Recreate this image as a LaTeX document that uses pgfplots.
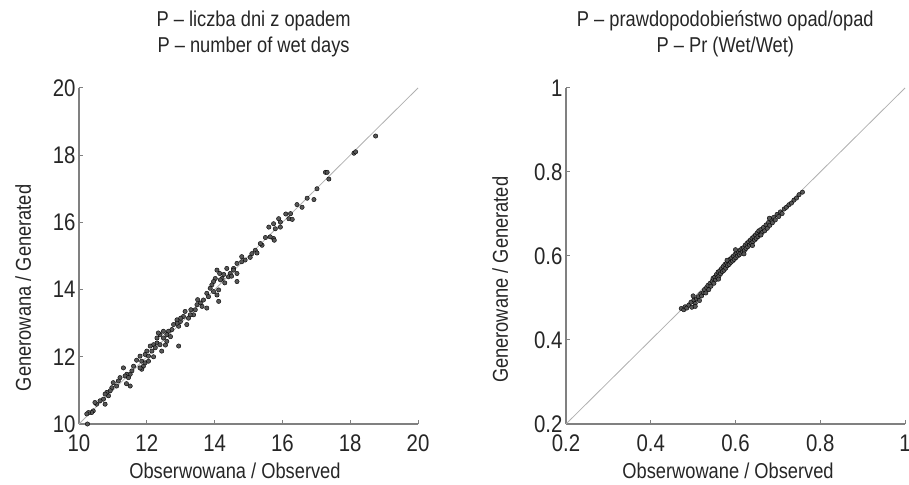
\documentclass[border=0pt]{standalone}
\usepackage{pgfplots}
\pgfplotsset{compat=1.18}
\usepackage{fontspec}
\setmainfont[FakeStretch=0.85]{Liberation Sans}
\definecolor{axgray}{HTML}{808080}
\definecolor{diag}{HTML}{B0B0B0}
\definecolor{dot}{HTML}{575757}
\pgfplotsset{
  myax/.style={
    width=339pt, height=336pt, scale only axis,
    axis lines=left, axis line style={-, axgray, line width=1.2pt},
    tick align=inside, major tick length=4pt,
    tick style={axgray, line width=1pt},
    /pgf/number format/assume math mode=true,
    ticklabel style={font=\fontsize{24}{24}\selectfont, text=black!85},
    xticklabel style={yshift=-7pt},
    label style={font=\fontsize{21.5}{26}\selectfont, text=black!85},
    title style={font=\fontsize{21.5}{26}\selectfont, text=black!85, align=center, anchor=base},
    clip=false,
  },
  dots/.style={only marks, mark=*, mark size=2.2pt, mark options={fill=dot, draw=none}},
}
\begin{document}
\begin{tikzpicture}
\path[use as bounding box] (-79pt,-60pt) rectangle (830pt,424pt);
\begin{axis}[myax, at={(0pt,0pt)}, anchor=south west,
  xmin=10, xmax=20, ymin=10, ymax=20,
  xtick={10,12,...,20}, ytick={10,12,...,20},
  xlabel={Obserwowana / Observed},
  xlabel style={at={(axis description cs:0.46,-0.161)}, anchor=base},
  ylabel={Generowana / Generated},
  ylabel style={at={(axis description cs:-0.165,0.405)}, anchor=center},
  title={P -- liczba dni z opadem\\P -- number of wet days},
  title style={at={(axis description cs:0.515,1.089)}},
]
\addplot[diag, line width=0.8pt] coordinates {(10,10) (20,20)};
\addplot[dots] coordinates {
(18.75,18.57) (18.11,18.06) (18.16,18.10) (17.27,17.49) (17.32,17.49) (17.37,17.29)
(17.02,17.00) (16.93,16.68) (16.73,16.72) (16.58,16.45) (16.43,16.53)
(16.24,16.26) (16.19,16.11) (16.29,16.09) (15.89,16.11) (15.94,16.01) (15.94,15.86)
(15.74,15.96) (15.79,15.81) (15.74,15.52) (15.76,15.47) (15.60,15.86) (15.64,15.57)
(15.40,15.32) (15.35,15.37) (15.20,15.17) (15.25,15.09) (15.10,15.07) (15.05,14.96)
(14.90,14.88) (14.80,14.83) (14.80,14.98) (14.66,14.78) (14.56,14.63)
(14.56,14.58) (14.46,14.48) (14.41,14.38) (14.66,14.24) (14.66,14.48)
(14.36,14.63) (14.27,14.45) (14.22,14.33) (14.17,14.29) (14.15,14.48) (14.07,14.58)
(14.02,14.33) (13.97,14.24) (13.92,14.14) (13.97,13.94) (14.07,13.84) (14.12,13.99)
(14.12,13.65) (13.87,14.04) (13.77,13.89) (13.82,13.79)
(13.67,13.69) (13.58,13.60) (13.63,13.50) (13.77,13.45) (13.48,13.55) (13.43,13.40)
(13.38,13.25) (13.28,13.25) (13.23,13.15) (13.13,13.35) (13.08,13.20) (13.18,12.96)
(12.99,13.05) (12.89,13.10) (12.94,12.91) (12.89,13.00) (12.79,12.96) (12.74,12.81)
(12.64,12.76) (12.59,12.66) (12.59,12.46) (12.49,12.56) (12.39,12.66) (12.49,12.76)
(12.34,12.71) (12.30,12.56) (12.94,12.32) (12.30,12.41) (12.20,12.36) (12.25,12.27)
(12.10,12.32) (12.15,12.17) (12.00,12.17) (11.95,12.07) (12.05,12.02) (12.39,12.36)
(12.44,12.17) (11.80,12.02) (11.85,11.87) (11.90,11.72) (11.85,11.63) (11.80,11.67)
(11.95,11.82) (12.05,11.87) (11.61,11.72) (11.56,11.58) (11.51,11.48) (11.41,11.48)
(11.31,11.67) (11.36,11.43) (11.46,11.38) (11.51,11.13) (11.21,11.38) (11.16,11.28)
(11.11,11.13) (11.01,11.23) (10.97,11.08) (10.92,10.99) (10.87,10.84) (10.82,10.94)
(10.77,10.89) (10.72,10.74) (10.77,10.59) (10.62,10.69) (10.52,10.59) (10.47,10.64)
(10.42,10.39) (10.37,10.34) (10.28,10.34) (10.23,10.30) (10.25,10.00)
(12.70,12.60) (12.55,12.35) (13.50,13.70) (13.30,13.40) (14.50,14.40) (14.30,14.20)
(11.70,11.90) (11.40,11.20) (12.20,12.00) (15.50,15.55) (16.10,16.25) (13.00,13.15)
};
\end{axis}
\begin{axis}[myax, at={(487pt,0pt)}, anchor=south west,
  xmin=0.2, xmax=1, ymin=0.2, ymax=1,
  xtick={0.2,0.4,0.6,0.8,1}, ytick={0.2,0.4,0.6,0.8,1},
  xticklabels={0.2,0.4,0.6,0.8,1}, yticklabels={0.2,0.4,0.6,0.8,1},
  xlabel={Obserwowane / Observed},
  xlabel style={at={(axis description cs:0.478,-0.161)}, anchor=base},
  ylabel={Generowane / Generated},
  ylabel style={at={(axis description cs:-0.194,0.429)}, anchor=center},
  title={P -- prawdopodobieństwo opad/opad\\P -- Pr (Wet/Wet)},
  title style={at={(axis description cs:0.47,1.089)}},
]
\addplot[diag, line width=0.8pt] coordinates {(0.2,0.2) (1,1)};
\addplot[dots] coordinates {
(0.472,0.475) (0.478,0.472) (0.481,0.479) (0.485,0.476) (0.490,0.483) (0.495,0.490)
(0.497,0.478) (0.502,0.495) (0.505,0.487) (0.508,0.498) (0.512,0.503) (0.515,0.494)
(0.518,0.510) (0.520,0.505) (0.524,0.513) (0.527,0.520) (0.530,0.512) (0.532,0.525)
(0.535,0.530) (0.537,0.520) (0.540,0.535) (0.542,0.528) (0.545,0.540) (0.547,0.547)
(0.549,0.535) (0.551,0.550) (0.553,0.543) (0.555,0.556) (0.557,0.549) (0.559,0.562)
(0.561,0.552) (0.563,0.565) (0.565,0.558) (0.567,0.570) (0.569,0.563) (0.571,0.575)
(0.573,0.566) (0.575,0.580) (0.577,0.571) (0.579,0.583) (0.581,0.577) (0.583,0.588)
(0.585,0.580) (0.587,0.592) (0.589,0.585) (0.591,0.596) (0.593,0.588) (0.595,0.600)
(0.597,0.592) (0.599,0.604) (0.601,0.596) (0.603,0.607) (0.605,0.600) (0.607,0.610)
(0.609,0.603) (0.611,0.614) (0.613,0.607) (0.615,0.618) (0.617,0.610) (0.619,0.620)
(0.621,0.613) (0.623,0.626) (0.625,0.618) (0.627,0.630) (0.629,0.622) (0.631,0.634)
(0.633,0.626) (0.635,0.638) (0.637,0.630) (0.639,0.642) (0.641,0.634) (0.643,0.646)
(0.645,0.638) (0.647,0.650) (0.649,0.642) (0.651,0.655) (0.653,0.646) (0.655,0.660)
(0.658,0.650) (0.660,0.663) (0.663,0.656) (0.666,0.668) (0.669,0.660) (0.672,0.674)
(0.675,0.666) (0.678,0.680) (0.681,0.673) (0.684,0.686) (0.687,0.679) (0.690,0.692)
(0.694,0.686) (0.698,0.699) (0.702,0.694) (0.706,0.705) (0.710,0.701) (0.715,0.712)
(0.720,0.716) (0.726,0.722) (0.732,0.726) (0.738,0.733) (0.744,0.738) (0.750,0.746)
(0.758,0.752) (0.600,0.615) (0.620,0.605) (0.580,0.590) (0.640,0.625) (0.560,0.545)
(0.660,0.650) (0.680,0.690) (0.500,0.505) (0.505,0.480)
};
\end{axis}
\end{tikzpicture}
\end{document}
